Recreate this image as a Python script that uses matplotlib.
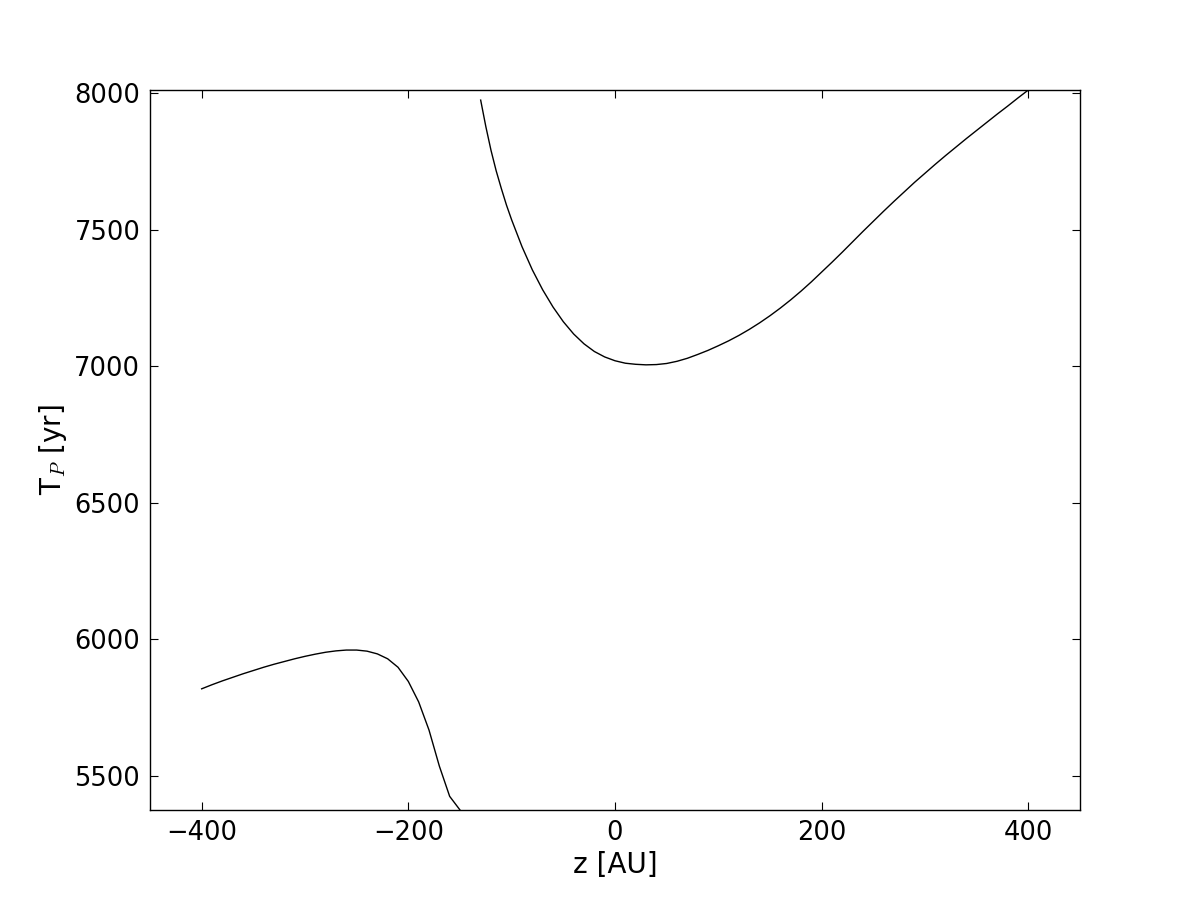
import matplotlib
matplotlib.use("Agg")
import matplotlib.pyplot as plt

plt.rcParams['mathtext.fontset'] = 'cm'

# lower branch
z_low = [-400, -390, -380, -370, -360, -350, -340, -330, -320, -310, -300,
         -290, -280, -270, -260, -250, -240, -230, -220, -210, -200,
         -190, -180, -170, -160, -150]
tp_low = [5818, 5833, 5847, 5860, 5873, 5885, 5897, 5908, 5918, 5928, 5937,
          5945, 5952, 5957, 5960, 5960, 5956, 5946, 5928, 5897, 5845,
          5770, 5667, 5535, 5424, 5374]

# upper branch
z_up = [-130, -125, -120, -115, -110, -105, -100, -90, -80, -70, -60, -50,
        -40, -30, -20, -10, 0, 10, 20, 30, 40, 50, 60, 70, 80, 90, 100,
        110, 120, 130, 140, 150, 160, 170, 180, 190, 200, 210, 220, 230,
        240, 250, 260, 270, 280, 290, 300, 310, 320, 330, 340, 350, 360,
        370, 380, 390, 400]
tp_up = [7975, 7878, 7791, 7716, 7651, 7590, 7536, 7438, 7353, 7280, 7217,
         7163, 7118, 7082, 7054, 7034, 7020, 7011, 7007, 7005, 7006, 7010,
         7018, 7029, 7043, 7058, 7075, 7093, 7113, 7135, 7159, 7185, 7213,
         7243, 7275, 7309, 7345, 7381, 7418, 7456, 7494, 7531, 7568, 7604,
         7639, 7674, 7707, 7740, 7772, 7803, 7834, 7864, 7894, 7924, 7953,
         7983, 8012]

fig = plt.figure(figsize=(12, 9), dpi=100)
ax = fig.add_axes([0.125, 0.1, 0.775, 0.8])

ax.plot(z_low, tp_low, color='k', lw=1.0)
ax.plot(z_up, tp_up, color='k', lw=1.0)

ax.set_xlim(-450, 450)
ax.set_ylim(5374, 8012)
ax.set_xticks([-400, -200, 0, 200, 400])
ax.set_yticks([5500, 6000, 6500, 7000, 7500, 8000])

ax.tick_params(direction='in', length=6, width=0.8, labelsize=18.5, pad=7,
               top=True, right=True)
for s in ax.spines.values():
    s.set_linewidth(1.0)

ax.set_xlabel('z [AU]', fontsize=20)
ax.set_ylabel(r'T$_P$ [yr]', fontsize=20)

fig.savefig('out.png', dpi=100, facecolor='white')
